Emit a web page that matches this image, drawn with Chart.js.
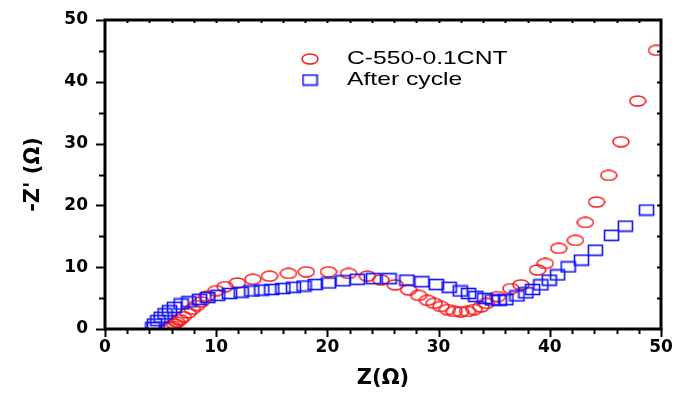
<!DOCTYPE html>
<html>
<head>
<meta charset="utf-8">
<script src="https://cdn.jsdelivr.net/npm/chart.js@4"></script>
<style>
html, body { margin: 0; padding: 0; background: #fff; }
#wrap { width: 681px; height: 393px; }
</style>
</head>
<body>
<div id="wrap"><canvas id="chart"></canvas></div>
<script>
// series names
const seriesNames = ['C-550-0.1CNT', 'After cycle'];

// C-550-0.1CNT  (Z, -Z')
const cntZ = [5.6, 5.8, 6.0, 6.25, 6.45, 6.75, 7.05, 7.45, 7.85, 8.25, 8.65, 9.15, 10.0, 10.8, 11.9, 13.3, 14.8, 16.5, 18.1, 20.1, 21.9, 23.6, 24.8, 26.1, 27.3, 28.2, 29.0, 29.6, 30.2, 30.8, 31.4, 32.0, 32.6, 33.2, 33.8, 34.3, 35.3, 36.5, 37.4, 38.9, 39.6, 40.8, 42.3, 43.2, 44.2, 45.3, 46.4, 47.9, 49.6];
const cntZi = [0.1, 0.3, 0.5, 0.8, 1.1, 1.5, 2.0, 2.6, 3.2, 3.8, 4.4, 5.3, 6.2, 6.85, 7.45, 8.05, 8.55, 9.0, 9.25, 9.25, 9.0, 8.55, 7.95, 7.15, 6.35, 5.45, 4.65, 4.15, 3.65, 3.15, 2.85, 2.8, 2.85, 3.15, 3.6, 4.15, 5.25, 6.55, 7.15, 9.55, 10.6, 13.05, 14.35, 17.25, 20.55, 24.85, 30.3, 36.9, 45.1];

// After cycle  (Z, -Z')
const cycZ = [4.3, 4.45, 4.75, 5.05, 5.4, 5.8, 6.25, 6.85, 7.55, 8.5, 9.25, 10.15, 11.2, 12.25, 13.2, 14.1, 15.0, 16.0, 16.95, 17.9, 18.9, 20.1, 21.4, 22.7, 24.15, 25.55, 27.15, 28.5, 29.8, 30.95, 31.95, 32.7, 33.35, 34.15, 34.85, 35.45, 36.05, 37.05, 37.85, 38.45, 39.2, 39.95, 40.7, 41.65, 42.85, 44.1, 45.55, 46.8, 48.7];
const cycZi = [0.25, 0.8, 1.35, 1.9, 2.45, 2.95, 3.5, 4.05, 4.4, 4.8, 5.1, 5.45, 5.75, 5.95, 6.15, 6.3, 6.4, 6.55, 6.75, 6.95, 7.2, 7.45, 7.8, 8.05, 8.15, 8.15, 7.9, 7.65, 7.2, 6.75, 6.15, 5.75, 5.25, 4.95, 4.7, 4.65, 4.75, 5.35, 5.85, 6.4, 7.15, 7.9, 8.75, 10.05, 11.15, 12.75, 15.15, 16.65, 19.25];

// axes
const xMin = 0, xMax = 50, xMajor = 10, xMinor = 2;
const yMin = 0, yMax = 50, yMajor = 10, yMinor = 5;

const red = 'rgb(250,20,20)';
const blue = 'rgb(15,15,250)';

function ellipseMarker(w, h, color) {
  const c = document.createElement('canvas');
  c.width = w + 2; c.height = h + 2;
  const g = c.getContext('2d');
  g.strokeStyle = color;
  g.lineWidth = 1.5;
  g.beginPath();
  g.ellipse(c.width / 2, c.height / 2, w / 2, h / 2, 0, 0, Math.PI * 2);
  g.stroke();
  return c;
}

function rectMarker(w, h, color) {
  const c = document.createElement('canvas');
  c.width = w + 2; c.height = h + 2;
  const g = c.getContext('2d');
  g.strokeStyle = color;
  g.lineWidth = 1.6;
  g.strokeRect(1.5, 1.5, w - 1, h - 1);
  return c;
}

const circleImg = ellipseMarker(16, 10, red);
const squareImg = rectMarker(15, 11, blue);

const toPoints = (xs, ys) => xs.map((x, i) => ({ x: x, y: ys[i] }));

// frame + tick marks, drawn over the points
const frameTicks = {
  id: 'frameTicks',
  afterDatasetsDraw(chart) {
    const { ctx, chartArea: a, scales: { x, y } } = chart;
    ctx.save();
    ctx.strokeStyle = '#000';
    ctx.lineCap = 'square';
    ctx.lineWidth = 2;
    for (let v = xMin; v <= xMax; v += xMinor) {
      const px = Math.round(x.getPixelForValue(v)) + 0.5;
      const len = v % xMajor === 0 ? 7 : 4;
      ctx.beginPath(); ctx.moveTo(px, a.bottom); ctx.lineTo(px, a.bottom + len); ctx.stroke();
      if (v > xMin && v < xMax) {
        ctx.beginPath(); ctx.moveTo(px, a.top); ctx.lineTo(px, a.top + 2); ctx.stroke();
      }
    }
    for (let v = yMin; v <= yMax; v += yMinor) {
      const py = Math.round(y.getPixelForValue(v)) + 0.5;
      const len = v % yMajor === 0 ? 8 : 5;
      ctx.beginPath(); ctx.moveTo(a.left, py); ctx.lineTo(a.left - len, py); ctx.stroke();
      if (v > yMin && v < yMax) {
        ctx.beginPath(); ctx.moveTo(a.right, py); ctx.lineTo(a.right - 3, py); ctx.stroke();
      }
    }
    ctx.lineWidth = 3;
    ctx.lineCap = 'butt';
    ctx.strokeRect(a.left, a.top, a.right - a.left, a.bottom - a.top);
    ctx.restore();
  }
};

// legend inside the plot
const innerLegend = {
  id: 'innerLegend',
  afterDraw(chart) {
    const { ctx, chartArea: a } = chart;
    const imgs = [circleImg, squareImg];
    const mx = a.left + 205, tx = a.left + 242;
    const rows = [a.top + 39, a.top + 60];
    ctx.save();
    ctx.font = '19px "Liberation Sans", Arial, sans-serif';
    ctx.fillStyle = '#000';
    ctx.textBaseline = 'middle';
    seriesNames.forEach((name, i) => {
      const img = imgs[i];
      ctx.drawImage(img, mx - img.width / 2, rows[i] - img.height / 2);
      ctx.save();
      ctx.translate(tx, rows[i]);
      ctx.scale(1.3, 1);
      ctx.fillText(name, 0, 0);
      ctx.restore();
    });
    ctx.restore();
  }
};

const tickFont = { family: '"DejaVu Sans", sans-serif', size: 17, weight: 'bold' };
const titleFont = { family: '"DejaVu Sans", sans-serif', size: 21, weight: 'bold' };

new Chart(document.getElementById('chart'), {
  type: 'scatter',
  data: {
    datasets: [
      {
        label: seriesNames[0],
        data: toPoints(cntZ, cntZi),
        pointStyle: circleImg,
        pointRadius: 5,
        borderColor: red,
        backgroundColor: 'transparent',
        order: 1,
      },
      {
        label: seriesNames[1],
        data: toPoints(cycZ, cycZi),
        pointStyle: squareImg,
        pointRadius: 5,
        borderColor: blue,
        backgroundColor: 'transparent',
        order: 0,
      },
    ],
  },
  options: {
    responsive: true,
    maintainAspectRatio: false,
    animation: false,
    layout: { padding: { left: 0, right: 20, top: 20, bottom: 0 } },
    plugins: {
      legend: { display: false },
      tooltip: { enabled: false },
    },
    scales: {
      x: {
        type: 'linear',
        min: xMin,
        max: xMax,
        grid: { display: false, drawTicks: false },
        border: { display: false },
        ticks: {
          stepSize: xMinor,
          autoSkip: false,
          maxRotation: 0,
          padding: 8,
          color: '#000',
          font: tickFont,
          callback: (v) => (v % xMajor === 0 ? v : ''),
        },
        title: { display: true, text: 'Z(Ω)', color: '#000', font: titleFont, padding: { top: 0, bottom: 2 } },
        afterFit: (s) => { s.height = 64; s.paddingLeft = 0; s.paddingRight = 0; },
      },
      y: {
        type: 'linear',
        min: yMin,
        max: yMax,
        grid: { display: false, drawTicks: false },
        border: { display: false },
        ticks: {
          stepSize: yMinor,
          autoSkip: false,
          padding: 17,
          color: '#000',
          font: tickFont,
          callback: (v) => (v % yMajor === 0 ? v : ''),
        },
        title: { display: true, text: "-Z' (Ω)", color: '#000', font: titleFont, padding: { top: 21, bottom: 0 } },
        afterFit: (s) => { s.width = 105; s.paddingTop = 0; s.paddingBottom = 0; },
      },
    },
  },
  plugins: [frameTicks, innerLegend],
});
</script>
</body>
</html>
